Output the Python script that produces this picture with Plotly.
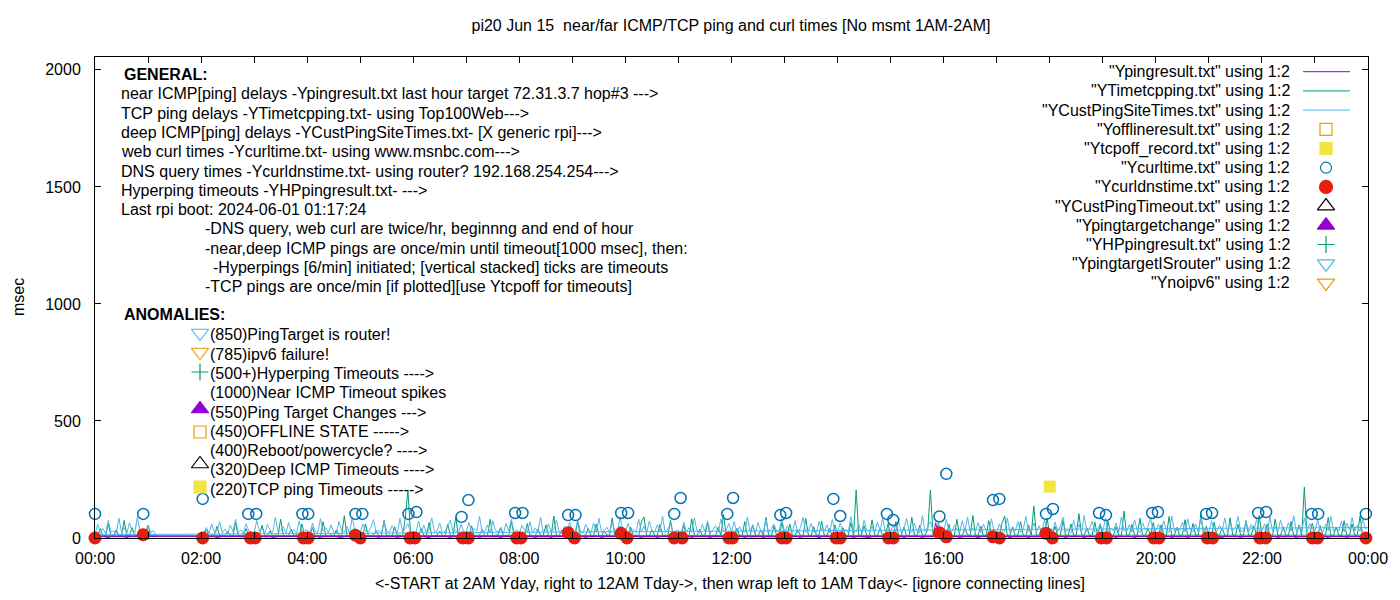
import plotly.graph_objects as go

TITLE = "pi20 Jun 15  near/far ICMP/TCP ping and curl times [No msmt 1AM-2AM]"
X_TITLE = ("&lt;-START at 2AM Yday, right to 12AM Tday-&gt;, then wrap left to 1AM Tday&lt;- "
           "[ignore connecting lines]")
Y_TITLE = "msec"
FONT = "Liberation Sans, Arial, sans-serif"

# ---------------------------------------------------------------------------
# 3-minute samples: run starts 2AM yesterday -> midnight, then wraps to 0..1:10 today
# ---------------------------------------------------------------------------
t_run = [h + m / 60 for h in range(2, 24) for m in range(0, 60, 3)]
t_run += [24.0]
t_run += [m / 60 for m in range(0, 60, 3)]
t_run += [1 + m / 60 for m in (0, 3, 6, 9)]

# near ICMP ping (Ypingresult.txt), msec
ping_ms = [
    6, 6, 7, 5, 6, 6, 2, 6, 7, 6, 5, 6, 6, 8, 6, 5, 6, 6, 1, 6,      # 02h
    6, 7, 6, 6, 5, 6, 6, 2, 6, 7, 6, 5, 6, 6, 6, 8, 6, 5, 6, 6,      # 03h
    5, 6, 6, 7, 6, 1, 6, 6, 5, 6, 7, 6, 6, 2, 6, 6, 5, 6, 7, 6,      # 04h
    6, 6, 5, 6, 8, 6, 6, 2, 6, 5, 6, 7, 6, 6, 1, 6, 6, 5, 6, 7,      # 05h
    6, 5, 6, 7, 6, 6, 2, 6, 6, 5, 7, 6, 6, 6, 1, 6, 5, 6, 7, 6,      # 06h
    7, 6, 6, 5, 6, 2, 6, 6, 7, 6, 5, 6, 6, 1, 6, 7, 6, 5, 6, 6,      # 07h
    6, 5, 7, 6, 6, 6, 1, 6, 5, 6, 7, 6, 2, 6, 6, 5, 6, 7, 6, 6,      # 08h
    5, 6, 6, 7, 6, 2, 6, 5, 6, 6, 7, 1, 6, 6, 5, 6, 6, 8, 6, 2,      # 09h
    6, 6, 5, 7, 6, 6, 1, 6, 5, 6, 7, 6, 2, 6, 6, 5, 6, 6, 7, 6,      # 10h
    6, 7, 6, 5, 6, 1, 6, 6, 7, 5, 6, 6, 2, 6, 6, 7, 5, 6, 6, 6,      # 11h
    5, 6, 7, 6, 6, 2, 6, 5, 6, 6, 7, 6, 1, 6, 5, 6, 6, 7, 6, 6,      # 12h
    6, 6, 5, 6, 7, 6, 2, 6, 6, 5, 6, 7, 6, 1, 6, 6, 5, 6, 7, 6,      # 13h
    7, 6, 6, 5, 6, 6, 1, 6, 7, 6, 5, 6, 2, 6, 6, 7, 6, 5, 6, 6,      # 14h
    6, 5, 6, 7, 6, 2, 6, 6, 5, 6, 7, 6, 1, 6, 6, 5, 6, 65, 6, 6,     # 15h
    6, 7, 6, 5, 6, 6, 2, 6, 7, 6, 5, 6, 6, 1, 6, 7, 6, 5, 6, 6,      # 16h
    5, 6, 6, 7, 6, 1, 6, 5, 6, 6, 7, 6, 2, 6, 5, 6, 6, 7, 6, 6,      # 17h
    6, 6, 5, 6, 7, 6, 2, 6, 6, 5, 6, 7, 6, 1, 6, 6, 5, 6, 7, 6,      # 18h
    7, 6, 6, 5, 6, 2, 6, 6, 7, 6, 5, 6, 1, 6, 6, 7, 6, 5, 6, 6,      # 19h
    6, 5, 6, 7, 6, 6, 1, 6, 5, 6, 7, 6, 2, 6, 6, 5, 6, 7, 6, 6,      # 20h
    6, 6, 7, 5, 6, 2, 6, 6, 5, 7, 6, 6, 1, 6, 6, 5, 7, 6, 6, 6,      # 21h
    5, 6, 6, 7, 6, 6, 2, 6, 5, 6, 7, 6, 6, 1, 6, 5, 6, 6, 7, 6,      # 22h
    6, 7, 6, 5, 6, 1, 6, 6, 7, 6, 5, 6, 2, 6, 6, 7, 6, 5, 6, 6,      # 23h
    6,                                                               # 24h
    6, 5, 6, 7, 6, 2, 6, 6, 5, 6, 7, 6, 1, 6, 6, 5, 6, 7, 6, 6,      # 00h
    6, 7, 6, 6,                                                      # 01h
]

# TCP ping (YTimetcpping.txt), msec
tcp_ms = [
    10, 12, 35, 9, 14, 11, 50, 10, 13, 9, 28, 12, 10, 65, 11, 9, 15, 40, 10, 12,
    12, 9, 14, 55, 10, 11, 30, 9, 13, 10, 80, 12, 9, 11, 38, 10, 14, 9, 60, 11,
    9, 13, 45, 10, 12, 9, 70, 11, 10, 14, 9, 35, 12, 10, 95, 11, 9, 13, 42, 10,
    11, 10, 60, 12, 9, 14, 32, 10, 11, 75, 9, 12, 10, 48, 11, 13, 9, 85, 205, 12,
    10, 14, 9, 40, 11, 12, 66, 10, 9, 13, 30, 11, 10, 58, 12, 9, 90, 11, 10, 14,
    12, 9, 52, 11, 10, 13, 36, 9, 12, 80, 10, 11, 14, 44, 9, 12, 10, 70, 11, 13,
    9, 12, 10, 62, 13, 11, 9, 38, 12, 10, 56, 11, 9, 94, 12, 10, 34, 13, 9, 48,
    11, 10, 72, 12, 9, 14, 40, 11, 10, 60, 12, 9, 30, 13, 11, 86, 10, 12, 50, 9,
    12, 11, 46, 10, 13, 9, 68, 90, 11, 10, 34, 12, 9, 58, 11, 13, 10, 76, 12, 9,
    10, 13, 54, 11, 9, 82, 12, 10, 38, 11, 13, 64, 9, 12, 10, 46, 11, 100, 12, 10,
    13, 9, 42, 12, 10, 70, 11, 9, 56, 13, 10, 32, 12, 88, 11, 9, 50, 12, 10, 66,
    10, 12, 60, 9, 13, 36, 11, 10, 84, 12, 9, 48, 11, 13, 72, 10, 12, 40, 9, 56,
    12, 10, 44, 11, 9, 66, 12, 205, 10, 13, 52, 11, 9, 78, 12, 10, 38, 13, 11, 60,
    11, 13, 70, 10, 12, 46, 9, 11, 88, 12, 10, 54, 13, 11, 36, 205, 12, 10, 64, 11,
    10, 12, 58, 11, 9, 80, 12, 10, 42, 13, 11, 96, 10, 12, 50, 9, 11, 74, 12, 10,
    12, 9, 62, 94, 11, 12, 46, 10, 13, 70, 11, 9, 54, 12, 137, 10, 13, 40, 11, 86,
    11, 13, 50, 10, 12, 76, 9, 11, 60, 12, 10, 104, 13, 11, 44, 10, 12, 68, 9, 56,
    10, 12, 72, 11, 9, 48, 12, 10, 115, 11, 13, 58, 10, 12, 84, 11, 9, 42, 12, 66,
    12, 10, 56, 13, 11, 92, 10, 12, 46, 9, 11, 78, 12, 10, 62, 13, 11, 100, 10, 50,
    11, 13, 68, 10, 12, 44, 11, 9, 86, 12, 10, 58, 13, 11, 74, 10, 12, 52, 11, 96,
    10, 12, 60, 11, 9, 80, 12, 10, 48, 13, 11, 70, 10, 12, 56, 11, 218, 10, 12, 64,
    12, 10, 52, 11, 13, 88, 10, 12, 46, 11, 9, 74, 12, 10, 60, 11, 13, 94, 10, 12,
    12,
    10, 14, 40, 9, 12, 60, 11, 10, 35, 12, 9, 75, 10, 13, 45, 11, 9, 30, 12, 10,
    55, 11, 12, 12,
]

# deep ICMP ping (YCustPingSiteTimes.txt), msec
cust_ms = [
    18, 22, 45, 20, 60, 25, 30, 70, 22, 38, 18, 55, 28, 80, 24, 35, 20, 62, 30, 26,
    22, 75, 28, 40, 20, 58, 33, 24, 88, 26, 30, 48, 20, 66, 27, 36, 22, 72, 25, 30,
    35, 20, 64, 28, 24, 82, 30, 44, 22, 56, 26, 20, 70, 32, 25, 50, 21, 90, 28, 34,
    24, 60, 30, 22, 46, 78, 26, 33, 20, 68, 29, 24, 52, 35, 22, 84, 27, 40, 62, 25,
    30, 22, 72, 26, 55, 20, 38, 86, 24, 31, 64, 22, 28, 48, 76, 25, 34, 20, 58, 27,
    26, 66, 22, 40, 30, 92, 24, 28, 56, 21, 74, 33, 26, 45, 20, 62, 30, 80, 24, 36,
    22, 54, 34, 26, 70, 20, 42, 28, 88, 25, 30, 60, 23, 36, 77, 26, 22, 50, 31, 68,
    28, 24, 76, 30, 20, 58, 35, 22, 64, 27, 84, 24, 32, 46, 21, 70, 29, 26, 90, 30,
    24, 62, 28, 36, 22, 80, 26, 50, 20, 72, 33, 24, 56, 28, 94, 22, 38, 60, 25, 30,
    32, 20, 68, 26, 44, 24, 86, 30, 22, 58, 27, 74, 20, 36, 52, 25, 82, 28, 34, 62,
    26, 70, 22, 48, 30, 24, 90, 28, 56, 21, 66, 32, 25, 78, 22, 40, 60, 27, 30, 84,
    22, 52, 33, 26, 74, 20, 44, 88, 24, 30, 62, 26, 22, 70, 35, 28, 56, 23, 80, 30,
    28, 64, 24, 38, 22, 92, 30, 26, 58, 22, 76, 34, 28, 48, 24, 68, 30, 86, 25, 36,
    30, 56, 26, 72, 22, 40, 84, 28, 24, 62, 30, 22, 96, 26, 46, 70, 32, 24, 60, 28,
    26, 80, 30, 24, 54, 36, 22, 74, 28, 90, 25, 42, 30, 66, 24, 58, 34, 26, 82, 30,
    24, 60, 32, 26, 86, 22, 48, 30, 70, 24, 38, 92, 28, 26, 64, 30, 52, 24, 78, 34,
    32, 24, 68, 28, 50, 88, 26, 34, 22, 76, 30, 58, 24, 96, 28, 40, 72, 26, 30, 62,
    28, 84, 26, 42, 30, 64, 24, 90, 32, 28, 56, 26, 78, 30, 24, 66, 34, 48, 86, 28,
    30, 58, 26, 74, 32, 24, 94, 28, 46, 30, 68, 26, 82, 34, 28, 60, 24, 88, 32, 40,
    26, 72, 34, 28, 54, 30, 86, 24, 64, 32, 44, 92, 28, 30, 70, 26, 58, 34, 80, 30,
    32, 60, 28, 90, 30, 48, 26, 76, 34, 28, 66, 30, 96, 26, 52, 32, 84, 28, 62, 36,
    30, 78, 34, 26, 58, 32, 92, 28, 46, 30, 72, 26, 64, 34, 88, 30, 54, 28, 82, 40,
    45,
    14, 60, 22, 40, 18, 75, 25, 30, 20, 85, 24, 45, 20, 65, 28, 22, 90, 26, 38, 20,
    55, 24, 30, 15,
]

assert len(ping_ms) == len(t_run) == len(tcp_ms) == len(cust_ms)

# web curl (Ycurltime.txt): twice per hour
curl_h = [0.0, 0.91, 2.03, 2.89, 3.04, 3.91, 4.02, 4.91, 5.04, 5.91, 6.06, 6.91,
          7.04, 7.92, 8.06, 8.92, 9.06, 9.92, 10.05, 10.92, 11.04, 11.92, 12.03,
          12.92, 13.03, 13.92, 14.05, 14.93, 15.05, 15.92, 16.05, 16.93, 17.05,
          17.93, 18.06, 18.93, 19.06, 19.93, 20.04, 20.95, 21.06, 21.93, 22.08,
          22.94, 23.06, 23.96]
curl_ms = [103, 103, 167, 103, 103, 103, 103, 103, 103, 103, 111, 90,
           162, 107, 107, 98, 98, 107, 107, 103, 171, 103, 171,
           98, 107, 167, 94, 103, 77, 92, 274, 162, 167,
           103, 124, 107, 98, 107, 111, 103, 107, 107, 111,
           103, 103, 103]

# DNS query (Ycurldnstime.txt)
dns_h = [0.0, 0.91, 2.03, 2.93, 3.02, 3.93, 4.02, 4.91, 5.0, 5.94, 6.03, 6.93,
         7.04, 7.95, 8.03, 8.92, 9.04, 9.92, 10.03, 10.92, 11.07, 11.95, 12.02,
         12.95, 13.03, 13.97, 14.05, 14.96, 15.05, 15.92, 16.05, 16.93, 17.05,
         17.93, 18.05, 18.97, 19.07, 19.96, 20.06, 20.97, 21.07, 21.96, 22.07,
         22.95, 23.05, 23.96]
dns_ms = [0, 14, 0, 0, 0, 0, 0, 12, 0, 0, 0, 0,
          0, 0, 0, 22, 0, 20, 0, 0, 0, 0, 0,
          0, 0, 0, 0, 0, 0, 22, 5, 5, 0,
          20, 0, 0, 0, 0, 0, 0, 0, 0, 0,
          0, 0, 0]

# TCP ping timeout record (Ytcpoff_record.txt)
tcpoff_h = [18.0]
tcpoff_ms = [220]

GENERAL = [
    "near ICMP[ping] delays -Ypingresult.txt last hour target 72.31.3.7 hop#3 ---&gt;",
    "TCP ping delays -YTimetcpping.txt- using Top100Web---&gt;",
    "deep ICMP[ping] delays -YCustPingSiteTimes.txt- [X generic rpi]---&gt;",
    "web curl times -Ycurltime.txt- using www.msnbc.com---&gt;",
    "DNS query times -Ycurldnstime.txt- using router? 192.168.254.254---&gt;",
    "Hyperping timeouts -YHPpingresult.txt- ---&gt;",
    "Last rpi boot: 2024-06-01 01:17:24",
]
NOTES = [
    "-DNS query, web curl are twice/hr, beginnng and end of hour",
    "-near,deep ICMP pings are once/min until timeout[1000 msec], then:",
    "  -Hyperpings [6/min] initiated; [vertical stacked] ticks are timeouts",
    "-TCP pings are once/min [if plotted][use Ytcpoff for timeouts]",
]
ANOMALIES = [
    "(850)PingTarget is router!",
    "(785)ipv6 failure!",
    "(500+)Hyperping Timeouts ----&gt;",
    "(1000)Near ICMP Timeout spikes",
    "(550)Ping Target Changes ---&gt;",
    "(450)OFFLINE STATE -----&gt;",
    "(400)Reboot/powercycle? ----&gt;",
    "(320)Deep ICMP Timeouts ----&gt;",
    "(220)TCP ping Timeouts -----&gt;",
]
KEY_LABELS = [
    '"Ypingresult.txt" using 1:2',
    '"YTimetcpping.txt" using 1:2',
    '"YCustPingSiteTimes.txt" using 1:2',
    '"Yofflineresult.txt" using 1:2',
    '"Ytcpoff_record.txt" using 1:2',
    '"Ycurltime.txt" using 1:2',
    '"Ycurldnstime.txt" using 1:2',
    '"YCustPingTimeout.txt" using 1:2',
    '"Ypingtargetchange" using 1:2',
    '"YHPpingresult.txt" using 1:2',
    '"YpingtargetISrouter" using 1:2',
    '"Ynoipv6" using 1:2',
]

PURPLE, GREEN, CYAN = "#9400d3", "#009e73", "#56b4e9"
ORANGE, YELLOW, BLUE, RED = "#e69f00", "#f0e442", "#0072b2", "#e51e10"

# key styles: (kind, symbol, color, size)
KEY_STYLE = [
    ("line", None, PURPLE, 0), ("line", None, GREEN, 0), ("line", None, CYAN, 0),
    ("mark", "square-open", ORANGE, 12), ("mark", "square", YELLOW, 12),
    ("mark", "circle-open", BLUE, 11), ("mark", "circle", RED, 13),
    ("mark", "triangle-up-open", "black", 15), ("mark", "triangle-up", PURPLE, 15),
    ("mark", "cross-thin-open", GREEN, 12), ("mark", "triangle-down-open", CYAN, 15),
    ("mark", "triangle-down-open", ORANGE, 15),
]
ANOM_MARK = {0: ("triangle-down-open", CYAN, 333, 15),
             1: ("triangle-down-open", ORANGE, 352, 15),
             2: ("cross-thin-open", GREEN, 372, 12),
             4: ("triangle-up", PURPLE, 409, 15),
             5: ("square-open", ORANGE, 432, 12),
             7: ("triangle-up-open", "black", 464, 15),
             8: ("square", YELLOW, 487, 12)}

# plot frame in window pixels; page body adds an 8px offset
OFF = 8
W, H = 1400 - 2 * OFF, 600 - 2 * OFF
L, R, T, B = 95, 1368, 57, 538


def px(x):
    return (x - L) / (R - L)


def py(y):
    return (B - y) / (B - T)


fig = go.Figure()
for ys, col in [(ping_ms, PURPLE), (tcp_ms, GREEN), (cust_ms, CYAN)]:
    fig.add_trace(go.Scatter(x=t_run, y=ys, mode="lines", line=dict(color=col, width=1)))

fig.add_trace(go.Scatter(x=tcpoff_h, y=tcpoff_ms, mode="markers",
                         marker=dict(symbol="square", size=12, color=YELLOW)))
fig.add_trace(go.Scatter(x=curl_h, y=curl_ms, mode="markers", cliponaxis=False,
                         marker=dict(symbol="circle-open", size=11, color=BLUE,
                                     line=dict(color=BLUE, width=1.5))))
fig.add_trace(go.Scatter(x=dns_h, y=dns_ms, mode="markers", cliponaxis=False,
                         marker=dict(symbol="circle", size=13, color=RED)))

# key samples (drawn on an overlay axis spanning the plot frame)
KEY_Y0, KEY_DY = 71.7, 19.2
for i, (kind, sym, col, size) in enumerate(KEY_STYLE):
    yk = py(KEY_Y0 + i * KEY_DY)
    if kind == "line":
        fig.add_trace(go.Scatter(x=[px(1303), px(1350)], y=[yk, yk], mode="lines",
                                 line=dict(color=col, width=1), xaxis="x2", yaxis="y2"))
    else:
        fig.add_trace(go.Scatter(
            x=[px(1326)], y=[yk], mode="markers", xaxis="x2", yaxis="y2",
            marker=dict(symbol=sym, size=size, color=col,
                        line=dict(color=col, width=1.2))))
    fig.add_annotation(x=px(1292), y=yk, text=KEY_LABELS[i], showarrow=False,
                       xref="paper", yref="paper", xanchor="right", yanchor="middle")

for i, (sym, col, ym, size) in ANOM_MARK.items():
    fig.add_trace(go.Scatter(
        x=[px(200)], y=[py(ym)], mode="markers", xaxis="x2", yaxis="y2",
        marker=dict(symbol=sym, size=size, color=col, line=dict(color=col, width=1.2))))


# text blocks
def label(text, x, y, bold=False):
    fig.add_annotation(x=px(x), y=py(y), text=f"<b>{text}</b>" if bold else text,
                       showarrow=False, xref="paper", yref="paper",
                       xanchor="left", yanchor="middle")


ROW0, DY = 74.5, 19.3
label("GENERAL:", 122, ROW0, bold=True)
for i, s in enumerate(GENERAL):
    label(s, 119, ROW0 + (i + 1) * DY)
for i, s in enumerate(NOTES):
    xs = 211 if s.startswith("  ") else 203
    label(s.strip(), xs, ROW0 + (i + 1 + len(GENERAL)) * DY)
label("ANOMALIES:", 122, 315, bold=True)
for i, s in enumerate(ANOMALIES):
    label(s, 208, 334.8 + i * DY)

fig.add_annotation(x=px(730), y=py(583), text=X_TITLE, showarrow=False,
                   xref="paper", yref="paper", yanchor="middle")
fig.add_annotation(x=px(18), y=py(297), text=Y_TITLE, showarrow=False, textangle=-90,
                   xref="paper", yref="paper", xanchor="center", yanchor="middle")

fig.update_layout(
    width=W, height=H,
    margin=dict(l=L - OFF, r=W - (R - OFF), t=T - OFF, b=H - (B - OFF)),
    paper_bgcolor="white", plot_bgcolor="white",
    showlegend=False,
    font=dict(family=FONT, size=16, color="black"),
    title=dict(text=TITLE, x=px(731), xref="paper", y=1 - (25 - OFF) / H,
               yanchor="middle", xanchor="center", font=dict(size=16),
               automargin=False),
    xaxis=dict(range=[0, 24], tickvals=list(range(0, 25, 2)),
               ticktext=[f"{h % 24:02d}:00" for h in range(0, 25, 2)],
               ticks="inside", ticklen=6, tickcolor="black", showline=True,
               linecolor="black", linewidth=1, mirror="ticks", showgrid=False,
               zeroline=False, ticklabelstandoff=6, automargin=False,
               minor=dict(dtick=1, tick0=0, ticks="inside", ticklen=6, tickcolor="black")),
    yaxis=dict(range=[0, 2055], tickvals=[0, 500, 1000, 1500, 2000],
               ticks="inside", ticklen=6, tickcolor="black", showline=True,
               linecolor="black", linewidth=1, mirror="ticks", showgrid=False,
               zeroline=False, ticklabelstandoff=10, automargin=False),
    xaxis2=dict(overlaying="x", range=[0, 1], visible=False),
    yaxis2=dict(overlaying="y", range=[0, 1], visible=False),
)

fig.write_html("out.html")
